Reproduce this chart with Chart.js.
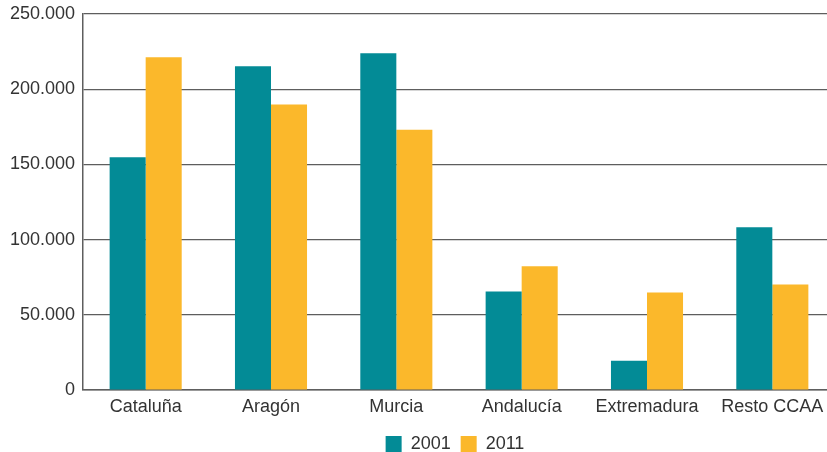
<!DOCTYPE html>
<html>
<head>
<meta charset="utf-8">
<script src="https://cdn.jsdelivr.net/npm/chart.js@4/dist/chart.umd.min.js"></script>
<style>
  html, body { margin: 0; padding: 0; background: #fff; overflow: hidden; }
  #clip { width: 827px; height: 452px; overflow: hidden; }
  #wrap { width: 835px; height: 452px; position: relative; }
</style>
</head>
<body>
<div id="clip"><div id="wrap"><canvas id="mainChart"></canvas></div></div>
<script>
// --- Data ---
const categories = ['Cataluña', 'Aragón', 'Murcia', 'Andalucía', 'Extremadura', 'Resto CCAA'];
const values2001 = [154700, 215200, 223900, 65500, 19500, 108200];
const values2011 = [221300, 189800, 173100, 82200, 64900, 70200];
const seriesLabels = ['2001', '2011'];
const yTicks = [0, 50000, 100000, 150000, 200000, 250000];

// --- Style ---
const COLORS = {
    teal: '#038B96',
    yellow: '#FBB82B',
    text: '#333333',
    grid: '#5e5e5e'
};
const FONT = { family: 'Liberation Sans, Arial, sans-serif', size: 18 };

function formatThousands(v) {
    return String(v).replace(/\B(?=(\d{3})+(?!\d))/g, '.');
}

// Center the legend under the plot area instead of the whole canvas
const legendShift = {
    id: 'legendShift',
    afterLayout(chart) {
        const lg = chart.legend;
        if (!lg) return;
        const dx = (chart.chartArea.left + chart.chartArea.right) / 2 - (lg.left + lg.right) / 2 - 4;
        lg.left += dx;
        lg.right += dx;
    }
};

const ctx = document.getElementById('mainChart').getContext('2d');

new Chart(ctx, {
    type: 'bar',
    data: {
        labels: categories,
        datasets: [{
            label: seriesLabels[0],
            data: values2001,
            backgroundColor: COLORS.teal,
            categoryPercentage: 0.575,
            barPercentage: 1
        }, {
            label: seriesLabels[1],
            data: values2011,
            backgroundColor: COLORS.yellow,
            categoryPercentage: 0.575,
            barPercentage: 1
        }]
    },
    plugins: [legendShift],
    options: {
        responsive: true,
        maintainAspectRatio: false,
        animation: false,
        layout: { padding: { top: 14, right: 0, left: 0, bottom: -11 } },
        plugins: {
            tooltip: { enabled: false },
            legend: {
                position: 'bottom',
                labels: {
                    boxWidth: 16,
                    boxHeight: 16,
                    padding: 10,
                    color: COLORS.text,
                    font: FONT
                }
            }
        },
        scales: {
            x: {
                grid: { display: false, drawTicks: false },
                border: { display: true, color: COLORS.grid, width: 1.5 },
                ticks: { color: COLORS.text, padding: 6, font: FONT },
                afterFit: (scale) => { scale.height = 35; }
            },
            y: {
                min: 0,
                max: 250000,
                afterBuildTicks: (scale) => { scale.ticks = yTicks.map(v => ({ value: v })); },
                grid: { color: COLORS.grid, lineWidth: 1.2, drawTicks: false },
                border: { display: true, color: COLORS.grid, width: 1.5 },
                ticks: {
                    color: COLORS.text,
                    padding: 8,
                    font: FONT,
                    callback: (v) => formatThousands(v)
                },
                afterFit: (scale) => {
                    scale.width = 83;
                    scale.paddingTop = 0;
                    scale.paddingBottom = 0;
                }
            }
        }
    }
});
</script>
</body>
</html>
